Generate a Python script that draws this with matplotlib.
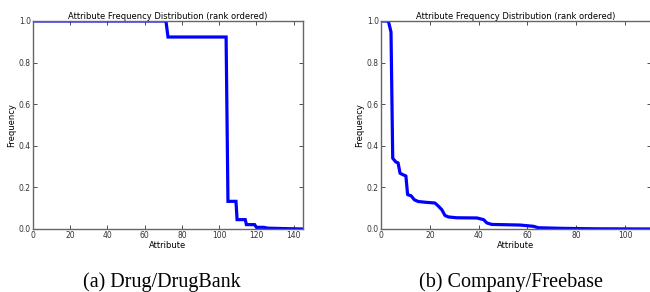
import matplotlib.pyplot as plt

# rank-ordered attribute frequency
drug_x = [0, 71.4, 72.5, 103.7, 104.7, 109, 109.6, 114, 114.6, 119, 120, 124, 126, 135, 145]
drug_y = [1.0, 1.0, 0.923, 0.923, 0.133, 0.133, 0.045, 0.045, 0.021, 0.021, 0.008, 0.008, 0.004, 0.002, 0.0]

comp_x = [0, 3, 4.1, 4.8, 6.1, 7, 7.8, 9.2, 10.2, 10.9, 12.3, 13.7, 15.3, 18.7, 22.1, 23.5,
          24.9, 26.2, 27.6, 31, 39.3, 42, 43.4, 45.4, 57, 59.7, 62.4, 64.5, 74.7, 88, 111]
comp_y = [1.0, 1.0, 0.947, 0.34, 0.322, 0.318, 0.268, 0.26, 0.255, 0.165, 0.16, 0.14, 0.132, 0.128,
          0.125, 0.11, 0.093, 0.065, 0.058, 0.054, 0.053, 0.045, 0.029, 0.022, 0.019, 0.016, 0.013,
          0.006, 0.003, 0.001, 0.0]

W, H = 650, 292
fig = plt.figure(figsize=(6.5, 2.92), dpi=100)

def style(ax, xmax, xticks):
    ax.set_xlim(0, xmax)
    ax.set_ylim(0, 1.0)
    ax.set_xticks(xticks)
    ax.set_yticks([0.0, 0.2, 0.4, 0.6, 0.8, 1.0])
    ax.set_yticklabels(['0.0', '0.2', '0.4', '0.6', '0.8', '1.0'])
    ax.tick_params(direction='in', top=True, right=True, length=3, width=0.6,
                   labelsize=5.5, pad=1.5, colors='#333333')
    for s in ax.spines.values():
        s.set_color('#666666')
        s.set_linewidth(1.0)
    ax.set_title('Attribute Frequency Distribution (rank ordered)', fontsize=6, pad=1.5)
    ax.set_xlabel('Attribute', fontsize=6, labelpad=1)
    ax.set_ylabel('Frequency', fontsize=6, labelpad=2)

ax1 = fig.add_axes([33 / W, 1 - 229 / H, 270 / W, 208 / H])
ax1.plot(drug_x, drug_y, color='#0000ff', lw=2.3, solid_joinstyle='miter')
style(ax1, 145, [0, 20, 40, 60, 80, 100, 120, 140])

ax2 = fig.add_axes([381 / W, 1 - 229 / H, 270 / W, 208 / H])
ax2.plot(comp_x, comp_y, color='#0000ff', lw=2.3)
style(ax2, 110.6, [0, 20, 40, 60, 80, 100])

fig.text(162 / W, 1 - 287 / H, '(a) Drug/DrugBank', fontsize=14.5,
         family='Liberation Serif', ha='center', va='baseline')
fig.text(511 / W, 1 - 287 / H, '(b) Company/Freebase', fontsize=14.5,
         family='Liberation Serif', ha='center', va='baseline')

fig.savefig('out.png', dpi=100)
